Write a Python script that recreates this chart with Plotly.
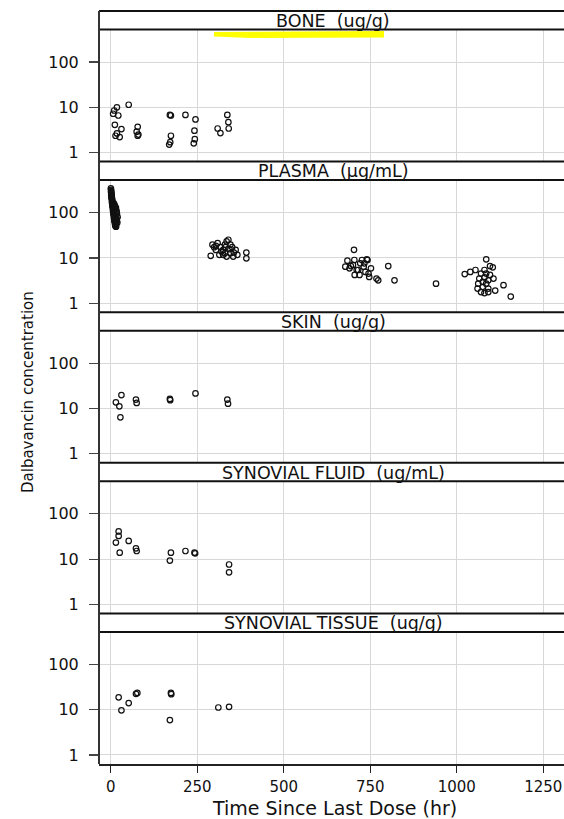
import plotly.graph_objects as go

# ---------------- data ----------------
panel_titles = ["BONE \u00a0(ug/g)", "PLASMA \u00a0(\u00b5g/mL)", "SKIN \u00a0(ug/g)",
                "SYNOVIAL FLUID \u00a0(ug/mL)", "SYNOVIAL TISSUE \u00a0(ug/g)"]

bone_t = [7, 10, 18, 22, 52, 12, 31, 18, 14, 26, 78, 75, 78, 80,
          171, 174, 174, 169, 172, 216, 245, 242, 243, 240, 309, 317, 337, 340, 341]
bone_c = [7.2, 8.5, 10, 6.6, 11.4, 4.1, 3.3, 2.65, 2.35, 2.2, 3.7, 2.9, 2.35, 2.5,
          6.8, 6.6, 2.35, 1.5, 1.7, 6.8, 5.4, 3.05, 1.98, 1.6, 3.4, 2.7, 6.8, 4.7, 3.4]

plasma_t = [0.5, 1.0, 1.5, 1.0, 2.0, 2.5, 1.5, 3.0, 2.0, 3.5,
            3.0, 4.0, 4.5, 3.5, 5.0, 4.0, 5.5, 6.0, 5.0, 6.5,
            6.0, 7.0, 7.5, 6.5, 8.0, 7.0, 8.5, 9.0, 8.0, 9.5,
            9.0, 10.0, 10.5, 9.5, 11.0, 10.0, 11.5, 12.0, 11.0, 12.5,
            12.0, 13.0, 13.5, 12.5, 14.0, 13.0, 14.5, 15.0, 14.0, 15.5,
            15, 17, 18, 20, 16, 19, 12, 14, 17, 13, 9, 11, 16, 18,
            289, 294, 304, 309, 317, 325, 330, 335, 340, 343, 346, 351, 354, 335,
            325, 361, 366, 392, 392, 320, 330, 346, 304, 314, 332, 356, 299,
            703, 684, 678, 694, 704, 711, 719, 721, 726, 731, 736, 742, 747, 752,
            745, 715, 700, 768, 773, 705, 733, 802, 820, 940, 740, 690,
            1085, 1096, 1104, 1023, 1039, 1054, 1070, 1080, 1065, 1075, 1085, 1062,
            1091, 1070, 1080, 1106, 1111, 1135, 1156, 1085, 1075, 1091, 1060, 1096,
            1080, 1091]
plasma_c = [345, 320, 300, 285, 270, 255, 245, 232, 222, 212,
            205, 196, 186, 178, 170, 163, 155, 148, 143, 137,
            130, 126, 120, 116, 111, 106, 102, 98, 95, 91,
            88, 84, 81, 78, 75, 73, 70, 68, 66, 64,
            62, 60, 58, 57, 56, 54, 53, 51, 50, 49,
            130, 110, 95, 80, 70, 60, 140, 120, 75, 90, 160, 150, 100, 65,
            11.1, 19.6, 18.5, 21.3, 17.3, 15, 19.6, 23.2, 25.2, 15.6, 12.7, 17.3, 10.7, 10.7,
            11.7, 15, 11.7, 13.1, 9.8, 13.9, 12.7, 19.6, 15, 11.7, 17.3, 13.1, 17.3,
            15.1, 8.7, 6.4, 6.6, 9, 5.4, 4.2, 7.6, 9, 6.4, 4.9, 9, 3.8, 5.9,
            4.5, 5.4, 7.0, 3.5, 3.2, 4.2, 7.6, 6.6, 3.2, 2.7, 9.3, 5.9,
            9.3, 6.6, 6.2, 4.4, 4.9, 5.4, 4.5, 3.7, 3.5, 2.95, 2.7, 2.7,
            2.1, 1.76, 1.67, 3.5, 1.9, 2.5, 1.4, 4.5, 2.3, 3.2, 2.1, 4.2,
            5.4, 1.76]

skin_t = [15, 25, 31, 28, 73, 75, 171, 172, 245, 337, 339]
skin_c = [13.7, 11.2, 19.8, 6.4, 15.8, 13.3, 16.3, 15.3, 21.6, 15.8, 12.8]

sf_t = [23, 23, 15, 26, 52, 73, 75, 174, 171, 216, 242, 244, 342, 342]
sf_c = [40.9, 32.6, 23.2, 13.9, 25.3, 17.3, 15.1, 13.9, 9.3, 15.1, 13.9, 13.4, 7.6, 5.1]

st_t = [23, 31, 52, 73, 77, 174, 175, 171, 311, 342]
st_c = [18.8, 9.7, 14, 22.4, 23.5, 23.5, 22, 5.9, 11.2, 11.6]

panel_t = [bone_t, plasma_t, skin_t, sf_t, st_t]
panel_c = [bone_c, plasma_c, skin_c, sf_c, st_c]

x_ticks = [0, 250, 500, 750, 1000, 1250]
y_ticks = [1, 10, 100]
y_ticktext = ["1", "10", "100"]

x_title = "Time Since Last Dose (hr)"
y_title = "Dalbavancin concentration"

# ---------------- geometry (page pixels; body margin removed by post_script) ----------------
W, H = 564, 819
LEFT, TOP, BOTTOM = 99, 11, 764          # plot frame in page pixels
ML, MR = LEFT, 0
MT = TOP
MB = H - BOTTOM
plot_h = H - MT - MB
plot_w = W - ML - MR
panel_h = plot_h / 5.0
strip_h = 18.5

def py(page_y):
    return (BOTTOM - page_y) / plot_h

def px(page_x):
    return (page_x - LEFT) / plot_w

FONT = "DejaVu Sans"
GRID = "#d8d8d8"

fig = go.Figure()
shapes = []
annotations = []
layout = dict()

for k in range(5):
    T = TOP + panel_h * k
    S = T + strip_h
    B = T + panel_h
    n = k + 1
    xa = "x" if n == 1 else f"x{n}"
    ya = "y" if n == 1 else f"y{n}"
    fig.add_trace(go.Scatter(
        x=panel_t[k], y=panel_c[k], mode="markers",
        marker=dict(symbol="circle-open", size=5.5, color="#111",
                    line=dict(width=1.2, color="#111")),
        xaxis=xa, yaxis=ya, showlegend=False, hoverinfo="skip"))
    last = (n == 5)
    layout["xaxis" if n == 1 else f"xaxis{n}"] = dict(
        domain=[0, 1], anchor=ya, range=[-33.8, 1309.8],
        tickvals=x_ticks, showticklabels=last,
        ticks="outside" if last else "", ticklen=7, tickwidth=1.2, tickcolor="#222",
        ticklabelstandoff=1,
        showgrid=True, gridcolor=GRID, gridwidth=1, zeroline=False,
        showline=last, linecolor="#222", linewidth=2,
        tickfont=dict(family=FONT, size=15, color="#111"),
        **({} if n == 1 else {"matches": "x"}))
    layout["yaxis" if n == 1 else f"yaxis{n}"] = dict(
        domain=[py(B), py(S)], anchor=xa, type="log", range=[-0.2, 2.72],
        tickvals=y_ticks, ticktext=y_ticktext,
        ticks="outside", ticklen=9, tickwidth=1.2, tickcolor="#444",
        ticklabelstandoff=7,
        showgrid=True, gridcolor=GRID, gridwidth=1, zeroline=False,
        showline=False,
        tickfont=dict(family=FONT, size=16, color="#111"))
    # strip
    shapes.append(dict(type="rect", xref="paper", yref="paper",
                       x0=0, x1=1, y0=py(S), y1=py(T),
                       fillcolor="white", line=dict(width=0), layer="below"))
    for yy in (T, S):
        shapes.append(dict(type="line", xref="paper", yref="paper",
                           x0=0, x1=1, y0=py(yy), y1=py(yy),
                           line=dict(color="#111", width=2)))
    annotations.append(dict(text=panel_titles[k], xref="paper", yref="paper",
                            x=px(333), y=py((T + S) / 2 + 0.5),
                            xanchor="center", yanchor="middle", showarrow=False,
                            font=dict(family=FONT, size=17.5, color="#111")))

# left frame line
shapes.append(dict(type="line", xref="paper", yref="paper", x0=0, x1=0, y0=0, y1=1,
                   line=dict(color="#333", width=2)))
# yellow highlight in BONE panel
yel = "M {x0},{y0} L {x1},{y1} L {x2},{y2} L {x3},{y3} L {x4},{y4} Z".format(
    x0=px(214), y0=py(32), x1=px(384), y1=py(31), x2=px(384), y2=py(37.5),
    x3=px(250), y3=py(38), x4=px(214), y4=py(36.5))
shapes.append(dict(type="path", xref="paper", yref="paper", path=yel,
                   fillcolor="#ffff00", line=dict(width=0)))

annotations.append(dict(text=x_title, xref="paper", yref="paper",
                        x=px(334), y=py(808), xanchor="center", yanchor="middle",
                        showarrow=False, font=dict(family=FONT, size=19, color="#111")))
annotations.append(dict(text=y_title, xref="paper", yref="paper", textangle=-90,
                        x=px(28), y=py(392), xanchor="center", yanchor="middle",
                        showarrow=False, font=dict(family=FONT, size=15, color="#111")))

fig.update_layout(width=W, height=H, autosize=False,
                  margin=dict(l=ML, r=MR, t=MT, b=MB, pad=0),
                  paper_bgcolor="white", plot_bgcolor="white",
                  shapes=shapes, annotations=annotations, **layout)

fig.write_html("out.html",
               config={"displayModeBar": False, "staticPlot": True},
               post_script="document.body.style.margin='0';"
                           "document.body.style.overflow='hidden';")
